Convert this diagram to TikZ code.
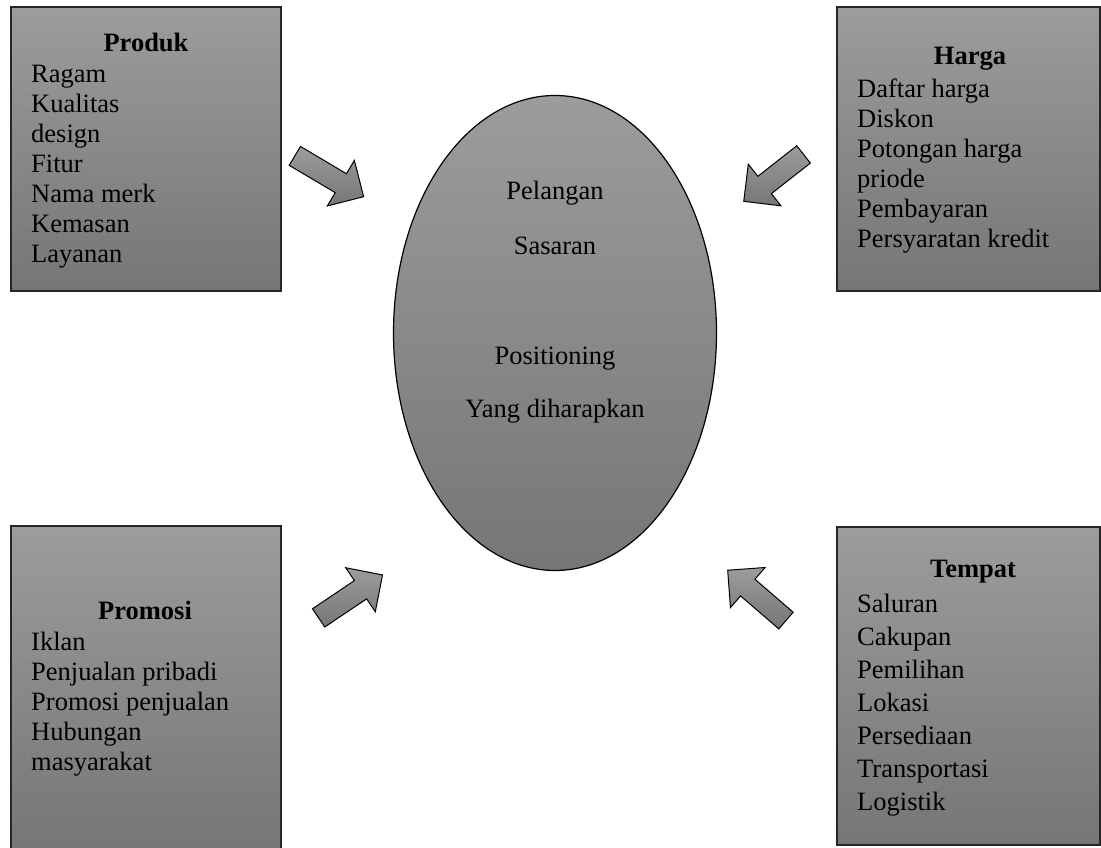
\documentclass[tikz,border=0pt]{standalone}
\usepackage{fontspec}
\setmainfont{Liberation Serif}
\usetikzlibrary{shapes.geometric,shapes.arrows}
\definecolor{shadetop}{RGB}{156,156,156}
\definecolor{shadebot}{RGB}{118,118,118}
\begin{document}
\begin{tikzpicture}[x=1pt, y=1pt,
    box/.style={rectangle, draw=black!85, line width=1.2pt, top color=shadetop, bottom color=shadebot, inner sep=0pt},
    head/.style={font=\fontsize{26.5}{30}\selectfont\bfseries, anchor=base, inner sep=0pt},
    items/.style={font=\fontsize{26.5}{30}\selectfont, align=left, anchor=north west, inner sep=0pt},
    txt/.style={font=\fontsize{26.5}{30}\selectfont, anchor=base, inner sep=0pt},
    arr/.style={single arrow, draw=black, line width=1pt, top color=shadetop, bottom color=shadebot, inner xsep=0pt, inner ysep=10.5pt, single arrow head extend=15.5pt},
]
    \useasboundingbox (0,0) rectangle (1101,848);

    % centre
    \node[ellipse, draw=black, line width=1.2pt, top color=shadetop, bottom color=shadebot, minimum width=323pt, minimum height=475pt] (target) at (555,515) {};
    \node[txt] (pel) at (555,648) {Pelangan};
    \node[txt] (sas) at (555,593) {Sasaran};
    \node[txt] (pos) at (555,483) {Positioning};
    \node[txt] (yang) at (555,430) {Yang diharapkan};

    % four boxes
    \node[box, minimum width=270pt, minimum height=284pt] (produk) at (146,699) {};
    \node[head] at (146,796) {Produk};
    \node[items] at (31,783) {Ragam\\Kualitas\\design\\Fitur\\Nama merk\\Kemasan\\Layanan};

    \node[box, minimum width=263pt, minimum height=284pt] (harga) at (968.5,699) {};
    \node[head] at (970,783) {Harga};
    \node[items] at (857,769) {Daftar harga\\Diskon\\Potongan harga\\priode\\Pembayaran\\Persyaratan kredit};

    \node[box, minimum width=270pt, minimum height=324pt] (promosi) at (146,160) {};
    \node[head] at (145,228) {Promosi};
    \node[items] at (31,216) {Iklan\\Penjualan pribadi\\Promosi penjualan\\Hubungan\\masyarakat};

    \node[box, minimum width=263pt, minimum height=318pt] (tempat) at (968.5,162) {};
    \node[head] at (973,270) {Tempat};
    \node[items, font=\fontsize{26.5}{33}\selectfont] at (857,254) {Saluran\\Cakupan\\Pemilihan\\Lokasi\\Persediaan\\Transportasi\\Logistik};

    % block arrows
    \node[arr, minimum height=80pt, rotate=-30.7] (a1) at (324.5,674.5) {};
    \node[arr, minimum height=76pt, rotate=-141.9] (a2) at (778,673.5) {};
    \node[arr, minimum height=77pt, rotate=33.9] (a3) at (346,248.5) {};
    \node[arr, minimum height=77pt, rotate=139.2] (a4) at (761,249) {};
\end{tikzpicture}
\end{document}
